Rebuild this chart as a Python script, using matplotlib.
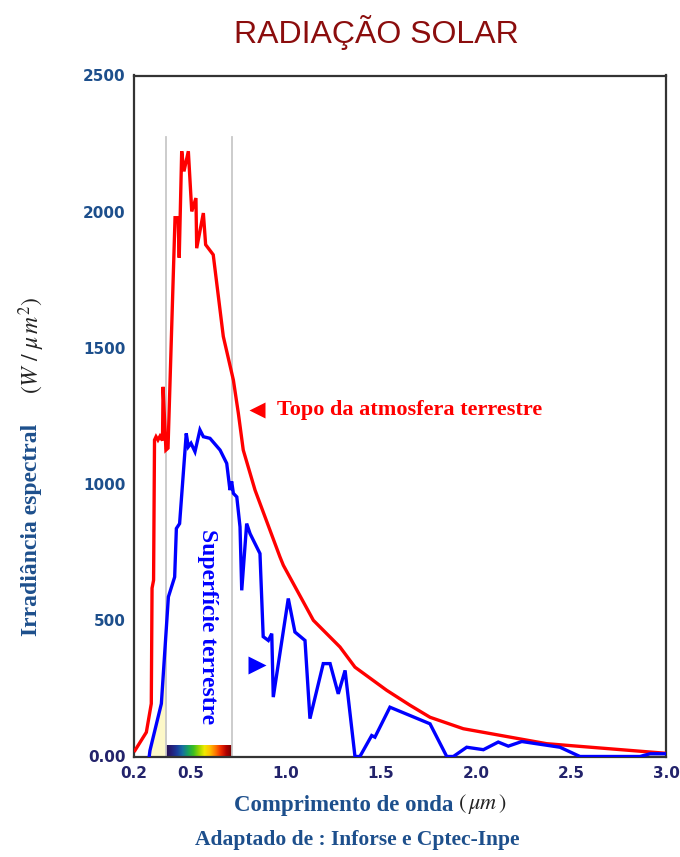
import numpy as np
import matplotlib
matplotlib.use("Agg")
import matplotlib.pyplot as plt
from matplotlib.ticker import FixedLocator, FixedFormatter
from matplotlib.colors import LinearSegmentedColormap

# Spectral irradiance at the top of the atmosphere (W / m^2 / um)
topo_wl = [0.205, 0.265, 0.291, 0.295, 0.303, 0.308, 0.316, 0.326, 0.337, 0.350,
           0.353, 0.368, 0.379, 0.416, 0.432, 0.438, 0.451, 0.463, 0.486, 0.504,
           0.526, 0.530, 0.565, 0.577, 0.617, 0.670, 0.723, 0.749, 0.775, 0.837,
           0.968, 0.986, 1.144, 1.284, 1.363, 1.530, 1.653, 1.758, 1.933, 2.372,
           2.995]
topo_irr = [22, 89, 194, 618, 647, 1162, 1174, 1162, 1176, 1160,
            1357, 1125, 1132, 1978, 1978, 1831, 2222, 2148, 2222, 2001,
            2050, 1866, 1995, 1879, 1842, 1542, 1382, 1261, 1125, 978,
            733, 702, 500, 402, 328, 243, 188, 144, 102, 47,
            12]

# Spectral irradiance at the surface
sup_wl = [0.280, 0.284, 0.344, 0.381, 0.414, 0.423, 0.440, 0.475, 0.486, 0.500,
          0.521, 0.547, 0.565, 0.600, 0.653, 0.688, 0.705, 0.714, 0.723, 0.741,
          0.758, 0.767, 0.793, 0.811, 0.828, 0.863, 0.880, 0.907, 0.925, 0.933,
          1.012, 1.047, 1.100, 1.126, 1.196, 1.232, 1.275, 1.311, 1.363, 1.389,
          1.451, 1.468, 1.547, 1.758, 1.846, 1.881, 1.951, 2.039, 2.117, 2.170,
          2.241, 2.442, 2.547, 2.863, 2.916, 2.995]
sup_irr = [0, 22, 194, 586, 659, 837, 855, 1186, 1137, 1150,
           1119, 1199, 1174, 1168, 1125, 1076, 978, 1010, 966, 953,
           843, 610, 855, 818, 794, 745, 440, 426, 451, 218,
           580, 457, 426, 139, 341, 341, 230, 316, 0, 0,
           77, 71, 181, 120, 0, 0, 34, 25, 53, 38,
           55, 34, 0, 0, 10, 10]

visible_band = [0.37, 0.715]
band_top = 2275

y_ticks = [0, 500, 1000, 1500, 2000, 2500]
y_labels = ["0.00", "500", "1000", "1500", "2000", "2500"]
x_ticks = [0.2, 0.5, 1.0, 1.5, 2.0, 2.5, 3.0]
x_labels = ["0.2", "0.5", "1.0", "1.5", "2.0", "2.5", "3.0"]

W, H = 680, 857
fig = plt.figure(figsize=(W / 100, H / 100), dpi=100)
fig.patch.set_facecolor("white")
plt.rcParams["mathtext.fontset"] = "stix"

L, R, T, B = 134, 666, 75.5, 756.5
ax = fig.add_axes([L / W, 1 - B / H, (R - L) / W, (B - T) / H])

for s in ax.spines.values():
    s.set_color("#333333")
    s.set_linewidth(1.6)

BLUE_TXT = "#1d4f8c"
NAVY = "#23236b"
serif = "Liberation Serif"

# visible-light colour strip along the bottom of the band
spectrum = LinearSegmentedColormap.from_list(
    "spectrum",
    ["#2a0f50", "#24207a", "#1a3c9c", "#1670a0", "#18a060", "#3cbf20",
     "#9ad400", "#f0ea00", "#ffc000", "#ff7a00", "#f02a00", "#b00000",
     "#700000"])
ax.imshow(np.linspace(0, 1, 256)[None, :], cmap=spectrum,
          extent=[visible_band[0], visible_band[1], 0, 44],
          aspect="auto", zorder=1, interpolation="bilinear")
ax.set_xlim(0.2, 3.0)
ax.set_ylim(0, 2500)

# band limits
for xv in visible_band:
    ax.plot([xv, xv], [0, band_top], color="#c8c8c8", lw=1.3, zorder=1)

# ultraviolet part under the surface curve
sw = np.array(sup_wl)
si = np.array(sup_irr)
xs = np.linspace(sw[0], visible_band[0], 100)
ax.fill_between(xs, 0, np.interp(xs, sw, si), color="#fdf8c8", lw=0, zorder=0.5)
xs2 = np.linspace(2.87, 2.995, 30)
ax.fill_between(xs2, 0, np.interp(xs2, sw, si), color="#fdf8c8", lw=0, zorder=0.5)

ax.plot(topo_wl, topo_irr, color="#ff0000", lw=2.4, zorder=3,
        solid_joinstyle="miter")
ax.plot(sup_wl, sup_irr, color="#0000ff", lw=2.4, zorder=3,
        solid_joinstyle="miter")

# curve labels
ax.plot([0.845], [1272], marker="<", color="#ff0000", ms=12, mec="none", zorder=4)
ax.text(0.955, 1272, "Topo da atmosfera terrestre", color="#ff0000",
        fontsize=16, fontweight="bold", family=serif, va="center", ha="left")
ax.plot([0.845], [335], marker=">", color="#0000ff", ms=13, mec="none", zorder=4)
ax.text(0.589, 478, "Superfície terrestre", color="#0000ff", rotation=-90,
        fontsize=17, fontweight="bold", family=serif, va="center", ha="center")

# ticks
ax.yaxis.set_major_locator(FixedLocator(y_ticks))
ax.yaxis.set_major_formatter(FixedFormatter(y_labels))
ax.xaxis.set_major_locator(FixedLocator(x_ticks))
ax.xaxis.set_major_formatter(FixedFormatter(x_labels))
ax.tick_params(axis="y", length=0, pad=6)
ax.tick_params(axis="x", length=0, pad=7)
for i, lab in enumerate(ax.get_yticklabels()):
    lab.set_fontweight("bold")
    lab.set_fontsize(11)
    lab.set_family("DejaVu Sans")
    lab.set_color(NAVY if i == 0 else BLUE_TXT)
for lab in ax.get_xticklabels():
    lab.set_fontweight("bold")
    lab.set_fontsize(11)
    lab.set_family("DejaVu Sans")
    lab.set_color(NAVY)


def fig_text(x, y, s, **kw):
    fig.text(x / W, 1 - y / H, s, **kw)


fig_text(376, 32, "RADIAÇÃO SOLAR", color="#8b0d0d", fontsize=23,
         family="Liberation Sans", ha="center", va="center")

fig_text(453, 806, "Comprimento de onda", color=BLUE_TXT, fontsize=16.5,
         fontweight="bold", family=serif, ha="right", va="center")
fig_text(458, 804, r"$(\,\mu m\,)$", color="#222222", fontsize=16,
         ha="left", va="center")
fig_text(357, 840, "Adaptado de : Inforse e Cptec-Inpe", color=BLUE_TXT,
         fontsize=15.5, fontweight="bold", family=serif, ha="center",
         va="center")

fig_text(32, 530, "Irradiância espectral", color=BLUE_TXT, fontsize=17,
         fontweight="bold", family=serif, ha="center", va="center",
         rotation=90)
fig_text(32, 345, r"$(W\ /\ \mu\,m^2)$", color="#222222", fontsize=17,
         ha="center", va="center", rotation=90)

fig.savefig("out.png", dpi=100, facecolor="white")
